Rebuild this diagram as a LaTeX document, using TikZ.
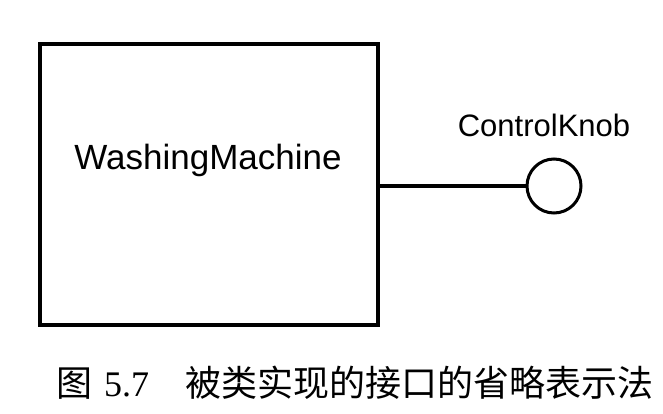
\documentclass[tikz,border=0pt]{standalone}
\usepackage{fontspec}
\setmainfont{Liberation Sans}
\newfontfamily\cjk{Noto Sans CJK SC}
\newfontfamily\capserif{Liberation Serif}
\usetikzlibrary{calc}

\begin{document}
\begin{tikzpicture}[x=1pt,y=-1pt]
    \useasboundingbox (0,0) rectangle (663,414);
    \coordinate (BoxCenter) at (209,184.5);
    \coordinate (Knob) at (554,186);
    \coordinate (Caption) at (56,396);
    \node[draw=black,line width=3.5pt,minimum width=338pt,minimum height=281pt,inner sep=0pt] (Machine) at (BoxCenter) {};
    \node[anchor=base,inner sep=0pt,font=\fontsize{35}{40}\selectfont] (MachineName) at (208,169) {WashingMachine};
    \node[draw=black,circle,line width=3pt,minimum size=54pt,inner sep=0pt] (Interface) at (Knob) {};
    \node[anchor=base,inner sep=0pt,font=\fontsize{31}{36}\selectfont] (InterfaceName) at (544,137) {ControlKnob};
    \draw [line width=3.5pt] (Machine.east |- Interface.west)--(Interface.west);
    %caption below the box
    \node[anchor=base west,inner sep=0pt,font=\fontsize{36}{42}\selectfont] (FigNo) at (Caption) {\cjk 图\hspace{12pt}\capserif 5.7};
    \node[anchor=base west,inner sep=0pt,font=\fontsize{36}{42}\selectfont\cjk] (FigTitle) at ($(Caption)+(129,0)$) {被类实现的接口的省略表示法};
\end{tikzpicture}
\end{document}
